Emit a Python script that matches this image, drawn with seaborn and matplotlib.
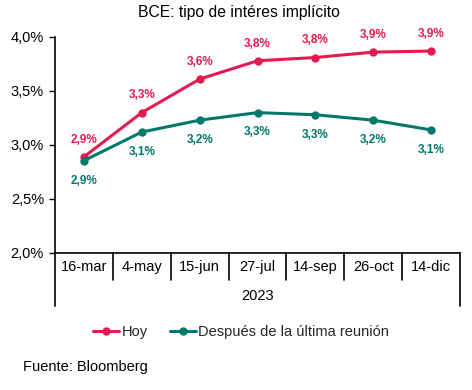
import matplotlib
matplotlib.use("Agg")
import matplotlib.pyplot as plt
import matplotlib.transforms as mtrans
import seaborn as sns
import pandas as pd

categories = ["16-mar", "4-may", "15-jun", "27-jul", "14-sep", "26-oct", "14-dic"]
hoy = [2.89, 3.30, 3.61, 3.78, 3.81, 3.86, 3.87]
despues = [2.855, 3.12, 3.23, 3.30, 3.28, 3.23, 3.14]
hoy_labels = ["2,9%", "3,3%", "3,6%", "3,8%", "3,8%", "3,9%", "3,9%"]
despues_labels = ["2,9%", "3,1%", "3,2%", "3,3%", "3,3%", "3,2%", "3,1%"]
yticks = [2.0, 2.5, 3.0, 3.5, 4.0]
ytick_labels = ["2,0%", "2,5%", "3,0%", "3,5%", "4,0%"]
year_label = "2023"
series_names = ["Hoy", "Después de la última reunión"]

RED = "#E31B4E"
TEAL = "#00796B"

sns.set_theme(style="white")
plt.rcParams["font.family"] = ["Liberation Sans", "DejaVu Sans"]

df = pd.DataFrame({
    "fecha": categories * 2,
    "valor": hoy + despues,
    "serie": [series_names[0]] * len(categories) + [series_names[1]] * len(categories),
})

fig = plt.figure(figsize=(4.72, 3.90), dpi=100)
ax = fig.add_axes([55 / 472, 1 - 253 / 390, 405 / 472, 216 / 390])

sns.lineplot(data=df, x="fecha", y="valor", hue="serie", sort=False,
             palette=[RED, TEAL], marker="o", markersize=6, markeredgewidth=0,
             linewidth=2.2, ax=ax, legend=True)

ax.set_xlim(-0.5, len(categories) - 0.5)
ax.set_ylim(2.0, 4.0)
ax.set_yticks(yticks)
ax.set_yticklabels(ytick_labels, fontsize=10.5, color="black")
ax.set_xticks(range(len(categories)))
ax.set_xticklabels(categories, fontsize=10.5, color="black")
ax.tick_params(axis="x", length=0, pad=5)
ax.tick_params(axis="y", left=True, length=4, width=1, color="black", pad=4, direction="out")
ax.set_xlabel("")
ax.set_ylabel("")
for s in ["top", "right"]:
    ax.spines[s].set_visible(False)
for s in ["left", "bottom"]:
    ax.spines[s].set_color("black")
    ax.spines[s].set_linewidth(1.2)
ax.grid(False)

# data labels
for i, (v, lab) in enumerate(zip(hoy, hoy_labels)):
    ax.annotate(lab, (i, v), xytext=(0, 8), textcoords="offset points",
                ha="center", va="bottom", fontsize=8.5, fontweight="bold", color=RED)
for i, (v, lab) in enumerate(zip(despues, despues_labels)):
    ax.annotate(lab, (i, v), xytext=(0, -10), textcoords="offset points",
                ha="center", va="top", fontsize=8.5, fontweight="bold", color=TEAL)

# category separators below axis
trans = mtrans.blended_transform_factory(ax.transData, fig.transFigure)
y_axis_fig = 1 - 253 / 390
y_sep_end = 1 - 280 / 390
y_outer_end = 1 - 306 / 390
for k in range(1, len(categories)):
    x = k - 0.5
    ax.plot([x, x], [y_axis_fig, y_sep_end], transform=trans, color="black",
            lw=1.2, clip_on=False)
for x in [-0.5, len(categories) - 0.5]:
    ax.plot([x, x], [y_axis_fig, y_outer_end], transform=trans, color="black",
            lw=1.2, clip_on=False)
fig.text((55 + 460) / 2 / 472, 1 - 296 / 390, year_label, ha="center", va="center",
         fontsize=10.5, color="black")

# legend
handles, labels = ax.get_legend_handles_labels()
ax.legend_.remove()
fig.legend(handles, labels, loc="center", bbox_to_anchor=(241 / 472, 1 - 332 / 390),
           ncol=2, frameon=False, fontsize=10.5, handlelength=1.8, handletextpad=0.15,
           columnspacing=1.5)

fig.suptitle("BCE: tipo de intéres implícito", x=239 / 472,
             y=1 - 13 / 390, va="center", fontsize=11.3, color="black")
fig.text(23 / 472, 1 - 367 / 390, "Fuente: Bloomberg", ha="left", va="center",
         fontsize=10.5, color="black")

fig.savefig("out.png", dpi=100, facecolor="white")
